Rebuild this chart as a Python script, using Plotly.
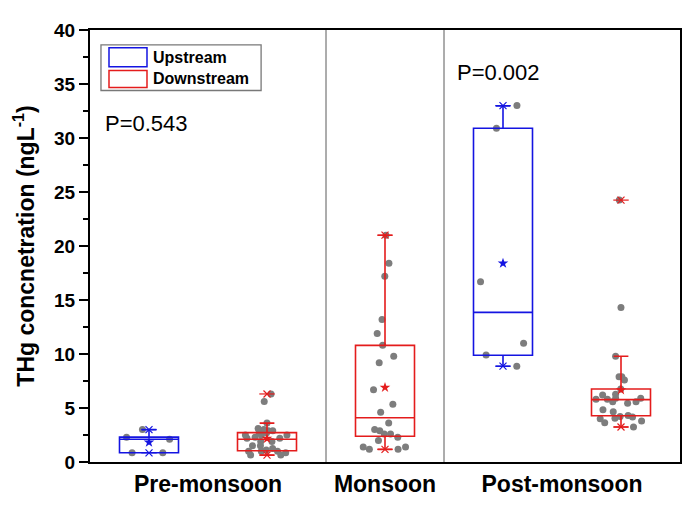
import plotly.graph_objects as go

# ---------------- data ----------------
seasons = ["Pre-monsoon", "Monsoon", "Post-monsoon"]
series_names = ["Upstream", "Downstream"]

pre_up = [0.85, 0.85, 2.3, 2.1, 3.0]
pre_down = [6.3, 5.6, 3.1, 3.6, 2.7, 2.5, 3.0, 2.7, 2.9, 2.9, 2.5, 2.3, 2.2, 2.5,
            2.2, 1.9, 1.9, 1.0, 0.64, 1.0, 1.1, 1.5, 0.64, 1.25, 1.0, 0.85, 1.5]
mon_down = [21.0, 18.4, 17.2, 13.2, 11.9, 10.8, 9.8, 9.2, 6.7, 5.35, 4.6, 3.6,
            3.0, 2.6, 2.3, 2.0, 2.6, 2.9, 1.4, 1.17, 1.17, 1.4]
post_up = [33.0, 30.9, 16.7, 11.0, 9.9, 8.87]
post_down = [24.25, 14.3, 9.8, 7.9, 7.9, 7.6, 6.76, 6.27, 6.2, 5.9, 5.8, 5.8, 5.9,
             5.57, 5.45, 5.57, 4.83, 4.65, 4.16, 4.04, 4.22, 4.3, 4.0, 3.8, 3.64, 3.24]

# box statistics for the five boxes (pre-up, pre-down, mon-down, post-up, post-down)
box_series = ["Upstream", "Downstream", "Downstream", "Upstream", "Downstream"]
box_q1 = [0.85, 1.04, 2.39, 9.88, 4.28]
box_median = [2.1, 2.11, 4.1, 13.85, 5.78]
box_q3 = [2.3, 2.72, 10.8, 30.9, 6.76]
box_lower = [0.85, 0.64, 1.17, 8.87, 3.24]
box_upper = [3.0, 3.6, 21.0, 32.96, 9.79]
box_mean = [1.82, 2.17, 6.9, 18.4, 6.67]
box_min = [0.85, 0.64, 1.17, 8.87, 3.24]
box_max = [3.0, 6.3, 21.0, 33.0, 24.25]
box_points = [pre_up, pre_down, mon_down, post_up, post_down]

p_values = ["P=0.543", "P=0.002"]
y_ticks = [0, 5, 10, 15, 20, 25, 30, 35, 40]

# ---------------- styling ----------------
FONT = "Liberation Sans, Arial, sans-serif"
colors = {"Upstream": "rgb(20,20,225)", "Downstream": "rgb(228,28,28)"}
positions = [1, 2, 3, 4, 5]
season_centers = [1.5, 3, 4.5]

fig = go.Figure()

# jittered raw points
for pos, pts in zip(positions, box_points):
    fig.add_trace(go.Box(
        x=[pos] * len(pts), y=pts, boxpoints="all", jitter=0.9, pointpos=0,
        width=0.5, fillcolor="rgba(0,0,0,0)",
        line=dict(width=0, color="rgba(0,0,0,0)"),
        marker=dict(color="rgb(125,125,125)", size=7),
        showlegend=False, hoverinfo="y"))

# boxes from statistics
for i, pos in enumerate(positions):
    c = colors[box_series[i]]
    fig.add_trace(go.Box(
        x=[pos], q1=[box_q1[i]], median=[box_median[i]], q3=[box_q3[i]],
        lowerfence=[box_lower[i]], upperfence=[box_upper[i]],
        width=0.5, whiskerwidth=0.25, boxpoints=False,
        fillcolor="rgba(0,0,0,0)", line=dict(color=c, width=1.6),
        showlegend=False))

# mean stars and min / max markers
for i, pos in enumerate(positions):
    c = colors[box_series[i]]
    fig.add_trace(go.Scatter(
        x=[pos], y=[box_mean[i]], mode="markers",
        marker=dict(symbol="star", size=8, color=c, line=dict(width=0)),
        showlegend=False))
    for sym, sz in [("x-thin-open", 7), ("line-ew-open", 11)]:
        fig.add_trace(go.Scatter(
            x=[pos, pos], y=[box_min[i], box_max[i]], mode="markers",
            marker=dict(symbol=sym, size=sz, color=c, line=dict(width=1.2, color=c)),
            showlegend=False))

# season dividers
for xd in [2.5, 3.5]:
    fig.add_shape(type="line", xref="x", yref="paper", x0=xd, x1=xd, y0=0, y1=1,
                  line=dict(color="rgb(90,90,90)", width=1))

# manual legend
fig.add_shape(type="rect", xref="paper", yref="paper", x0=0.0186, x1=0.29,
              y0=0.860, y1=0.9656, line=dict(color="rgb(120,120,120)", width=1.3),
              fillcolor="white")
fig.add_shape(type="rect", xref="paper", yref="paper", x0=0.0322, x1=0.0966,
              y0=0.915, y1=0.9587, line=dict(color=colors["Upstream"], width=1.5))
fig.add_shape(type="rect", xref="paper", yref="paper", x0=0.0322, x1=0.0966,
              y0=0.867, y1=0.906, line=dict(color=colors["Downstream"], width=1.5))
for name, yy in zip(series_names, [0.937, 0.887]):
    fig.add_annotation(xref="paper", yref="paper", x=0.1034, y=yy, text=name,
                       showarrow=False, xanchor="left", yanchor="middle",
                       font=dict(family=FONT, size=16, color="black", weight="bold"))

# P values
for txt, xx, yy in zip(p_values, [0.61, 3.593], [31.3, 36.1]):
    fig.add_annotation(x=xx, y=yy, text=txt, showarrow=False, xanchor="left",
                       yanchor="middle", font=dict(family=FONT, size=22, color="black"))

# page body has an 8px margin: compensate so the plot area lands where the reference has it
fig.update_layout(
    width=700, height=511, boxmode="overlay",
    margin=dict(l=82, r=28, t=18, b=57),
    plot_bgcolor="white", paper_bgcolor="white",
    font=dict(family=FONT, color="black"),
    showlegend=False,
)
fig.update_xaxes(
    range=[0.5, 5.5], tickmode="array", tickvals=season_centers, ticktext=seasons,
    ticks="", showgrid=False, zeroline=False, showline=True, linecolor="black",
    linewidth=2, mirror=True,
    tickfont=dict(family=FONT, size=23, color="black", weight="bold"),
)
fig.update_yaxes(
    range=[0, 40], tickmode="array", tickvals=y_ticks,
    ticks="outside", ticklen=9, tickwidth=1.5, tickcolor="black",
    minor=dict(ticks="outside", ticklen=5, tickwidth=1.5, tickcolor="black", dtick=2.5),
    showgrid=False, zeroline=False, showline=True, linecolor="black", linewidth=2,
    mirror=True,
    tickfont=dict(family=FONT, size=19, color="black", weight="bold"),
    title=dict(text="THg concnetration (ngL<sup>-1</sup>)", standoff=13,
               font=dict(family=FONT, size=23, color="black", weight="bold")),
)

fig.write_html("out.html")
